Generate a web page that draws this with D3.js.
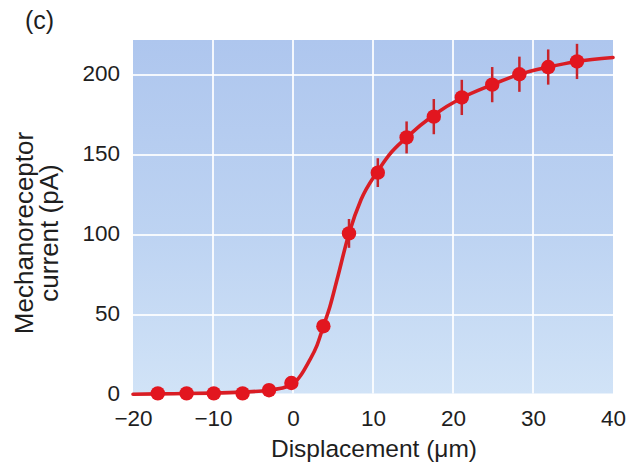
<!DOCTYPE html>
<html>
<head>
<meta charset="utf-8">
<script src="https://cdn.jsdelivr.net/npm/d3@7/dist/d3.min.js"></script>
<style>
  html, body { margin: 0; padding: 0; background: #ffffff; }
  svg { display: block; }
  text { font-family: "Liberation Sans", Arial, Helvetica, sans-serif; fill: #1e1e1e; }
</style>
</head>
<body>
<script>
// ---- data ----
const displacement = [-16.9, -13.3, -9.9, -6.3, -3.0, -0.2, 3.8, 7.0, 10.6, 14.2, 17.6, 21.1, 24.9, 28.3, 31.9, 35.5];
const current      = [1, 1, 1, 1, 3, 7.5, 43, 101, 139, 161, 174, 186, 194, 200.5, 205, 208.5];
const errorBar     = [0, 0, 0, 0, 0, 0, 3, 9, 9, 10, 11, 11, 11, 11, 11, 11];

const fitX = [-20, -17, -13.5, -10, -6.5, -3, -1, 0, 1, 2, 3, 3.8, 4.6, 5.5, 7, 8.5, 10.6, 12, 14.2, 17.6, 21, 24.9, 28.3, 31.9, 35.5, 40];
const fitY = [0.5, 0.7, 0.9, 1.2, 1.8, 3, 4.8, 6.8, 12.5, 21, 31, 43, 55, 72, 101, 122, 140, 150, 161, 175, 185.5, 194, 200.5, 205, 208.5, 211];

const xTicks = [-20, -10, 0, 10, 20, 30, 40];
const yTicks = [0, 50, 100, 150, 200];
const xGrid  = [-10, 0, 10, 20, 30];
const yGrid  = [50, 100, 150, 200];

const panelLabel = "(c)";
const xTitle = "Displacement (\u03bcm)";
const yTitleLines = ["Mechanoreceptor", "current (pA)"];

// ---- layout ----
const W = 629, H = 464;
const m = { left: 133, top: 40, right: 16, bottom: 69 };
const iw = W - m.left - m.right, ih = H - m.top - m.bottom;

const svg = d3.select("body").append("svg").attr("width", W).attr("height", H);

const defs = svg.append("defs");
const grad = defs.append("linearGradient").attr("id", "bg").attr("x1", 0).attr("y1", 0).attr("x2", 0).attr("y2", 1);
grad.append("stop").attr("offset", "0%").attr("stop-color", "#aec6ee");
grad.append("stop").attr("offset", "55%").attr("stop-color", "#bdd3f2");
grad.append("stop").attr("offset", "100%").attr("stop-color", "#d1e3f7");

const x = d3.scaleLinear().domain([-20, 40]).range([0, iw]);
const y = d3.scaleLinear().domain([0, 221.9]).range([ih, 0]);

const g = svg.append("g").attr("transform", `translate(${m.left},${m.top})`);

g.append("rect").attr("x", 0).attr("y", 0).attr("width", iw).attr("height", y(0) - 1.5)
  .attr("fill", "url(#bg)");

// grid
g.selectAll(".vg").data(xGrid).enter().append("line")
  .attr("x1", d => x(d)).attr("x2", d => x(d)).attr("y1", 0).attr("y2", y(0) - 1.5)
  .attr("stroke", "#ffffff").attr("stroke-opacity", 0.85).attr("stroke-width", 2);
g.selectAll(".hg").data(yGrid).enter().append("line")
  .attr("y1", d => y(d)).attr("y2", d => y(d)).attr("x1", 0).attr("x2", iw)
  .attr("stroke", "#ffffff").attr("stroke-opacity", 0.85).attr("stroke-width", 2);

// axes
const tickFont = 22.5;
const xAxis = d3.axisBottom(x).tickValues(xTicks).tickSize(0).tickPadding(0).tickFormat(d3.format("d"));
const xa = g.append("g").attr("transform", `translate(0,${ih})`).call(xAxis);
xa.select(".domain").remove();
xa.selectAll("text").attr("font-size", tickFont).attr("dy", null).attr("y", 30.5)
  .style("font-family", '"Liberation Sans", Arial, sans-serif').attr("fill", "#1e1e1e");

const yAxis = d3.axisLeft(y).tickValues(yTicks).tickSize(0).tickPadding(13).tickFormat(d3.format("d"));
const ya = g.append("g").call(yAxis);
ya.select(".domain").remove();
ya.selectAll("text").attr("font-size", tickFont).attr("dy", "0.36em").attr("y", -3)
  .style("font-family", '"Liberation Sans", Arial, sans-serif').attr("fill", "#1e1e1e");

// fit curve
const line = d3.line().x((d, i) => x(fitX[i])).y((d, i) => y(fitY[i])).curve(d3.curveMonotoneX);
g.append("path").datum(fitY).attr("d", line)
  .attr("fill", "none").attr("stroke", "#d91d24").attr("stroke-width", 3.6).attr("stroke-linecap", "round");

// error bars
const pts = displacement.map((d, i) => ({ x: d, y: current[i], e: errorBar[i] }));
g.selectAll(".err").data(pts.filter(p => p.e > 0)).enter().append("line")
  .attr("x1", p => x(p.x)).attr("x2", p => x(p.x))
  .attr("y1", p => y(p.y + p.e)).attr("y2", p => y(p.y - p.e))
  .attr("stroke", "#c8242b").attr("stroke-width", 2.5);

// points
g.selectAll(".pt").data(pts).enter().append("circle")
  .attr("cx", p => x(p.x)).attr("cy", p => y(p.y)).attr("r", 7.2)
  .attr("fill", "#e2161f");

// titles
svg.append("text").attr("x", 25).attr("y", 29).attr("font-size", 25).text(panelLabel);

svg.append("text").attr("x", m.left + x(10) + 1).attr("y", 457).attr("text-anchor", "middle")
  .attr("font-size", 24.5).text(xTitle);

const yt = svg.append("text").attr("transform", "translate(0,233) rotate(-90)")
  .attr("text-anchor", "middle").attr("font-size", 26);
yTitleLines.forEach((t, i) => {
  yt.append("tspan").attr("x", 0).attr("y", 33 + i * 25).text(t);
});
</script>
</body>
</html>
